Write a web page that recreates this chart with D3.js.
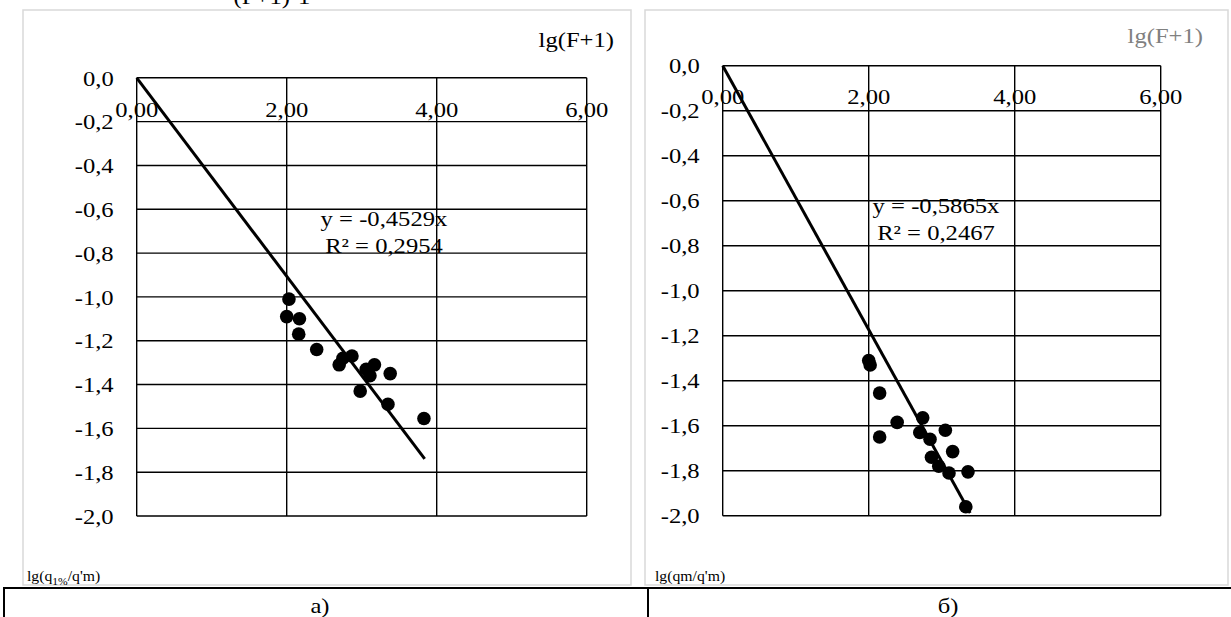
<!DOCTYPE html>
<html>
<head>
<meta charset="utf-8">
<script src="https://cdn.jsdelivr.net/npm/d3@7"></script>
<style>
  body { margin: 0; background: #fff; }
  text { font-family: "Liberation Serif", "Times New Roman", serif; fill: #000; }
</style>
</head>
<body>
<script>
// values
var xTicks = [0, 2, 4, 6];
var xTickLabels = ["0,00", "2,00", "4,00", "6,00"];
var yTicks = [0, -0.2, -0.4, -0.6, -0.8, -1.0, -1.2, -1.4, -1.6, -1.8, -2.0];
var yTickLabels = ["0,0", "-0,2", "-0,4", "-0,6", "-0,8", "-1,0", "-1,2", "-1,4", "-1,6", "-1,8", "-2,0"];

// a) lg(q1%/q'm)
var aX = [2.03, 2.00, 2.17, 2.16, 2.40, 2.75, 2.87, 2.70, 3.06, 3.17, 3.11, 3.38, 2.98, 3.35, 3.83];
var aY = [-1.01, -1.09, -1.10, -1.17, -1.24, -1.28, -1.27, -1.31, -1.33, -1.31, -1.36, -1.35, -1.43, -1.49, -1.555];
var aSlope = -0.4529, aTrendEnd = 3.84;
var aEq = ["y = -0,4529x", "R² = 0,2954"];

// б) lg(qm/q'm)
var bX = [2.00, 2.02, 2.15, 2.15, 2.39, 2.74, 2.70, 2.84, 3.05, 3.15, 2.86, 2.96, 3.10, 3.36, 3.33];
var bY = [-1.31, -1.33, -1.455, -1.65, -1.585, -1.565, -1.63, -1.66, -1.62, -1.715, -1.74, -1.78, -1.81, -1.805, -1.96];
var bSlope = -0.5865, bTrendEnd = 3.39;
var bEq = ["y = -0,5865x", "R² = 0,2467"];

var SX = 1.12; // glyphs in the picture are a bit wider than Times

var svg = d3.select("body").append("svg")
    .attr("width", 1231)
    .attr("height", 617);

function txt(g, x, y, s, size, anchor, color) {
    return g.append("text")
        .attr("transform", "translate(" + x + "," + y + ") scale(" + SX + ",1)")
        .attr("dy", "0.35em")
        .attr("font-size", size)
        .attr("text-anchor", anchor || "start")
        .style("fill", color || "#000")
        .text(s);
}

// caption above the plots, cut by the top edge as in the source
txt(svg, 272, -4, "(F+1)-1", 22, "middle");

function panel(box, area, xs, ys, slope, tEnd, eq, eqPos, yTitle, yTitleColor, xTitleParts) {
    var g = svg.append("g");
    g.append("rect")
        .attr("x", box[0]).attr("y", box[1])
        .attr("width", box[2]).attr("height", box[3])
        .attr("fill", "#fff").attr("stroke", "#d9d9d9").attr("stroke-width", 1.5);

    var x = d3.scaleLinear().domain([0, 6]).range([area.left, area.right]);
    var y = d3.scaleLinear().domain([0, -2]).range([area.top, area.bottom]);

    g.selectAll("line.h").data(yTicks).enter().append("line")
        .attr("x1", x(0)).attr("x2", x(6))
        .attr("y1", function(d) { return y(d); })
        .attr("y2", function(d) { return y(d); })
        .attr("stroke", "#000").attr("stroke-width", 1.4);
    g.selectAll("line.v").data(xTicks).enter().append("line")
        .attr("x1", function(d) { return x(d); })
        .attr("x2", function(d) { return x(d); })
        .attr("y1", y(0)).attr("y2", y(-2))
        .attr("stroke", "#000").attr("stroke-width", 1.4);

    yTicks.forEach(function(d, i) {
        txt(g, x(0) - 23, y(d), yTickLabels[i], 22, "end");
    });
    xTicks.forEach(function(d, i) {
        txt(g, x(d), y(0) + 31, xTickLabels[i], 22, "middle");
    });

    // trend line through origin
    g.append("line")
        .attr("x1", x(0)).attr("y1", y(0))
        .attr("x2", x(tEnd)).attr("y2", y(slope * tEnd))
        .attr("stroke", "#000").attr("stroke-width", 3);

    g.selectAll("circle").data(xs).enter().append("circle")
        .attr("cx", function(d) { return x(d); })
        .attr("cy", function(d, i) { return y(ys[i]); })
        .attr("r", 6.8)
        .attr("fill", "#000");

    txt(g, eqPos[0], eqPos[1], eq[0], 22, "middle");
    txt(g, eqPos[0], eqPos[1] + 27, eq[1], 22, "middle");

    txt(g, yTitle[0], yTitle[1], "lg(F+1)", 22, "end", yTitleColor);

    var t = g.append("text")
        .attr("transform", "translate(" + xTitleParts.pos[0] + "," + xTitleParts.pos[1] + ") scale(1.05,1)")
        .attr("dy", "0.35em")
        .attr("font-size", 15);
    t.append("tspan").text(xTitleParts.a);
    if (xTitleParts.sub) {
        t.append("tspan").attr("font-size", 11).attr("dy", 4).text(xTitleParts.sub);
        t.append("tspan").attr("dy", -4).text(xTitleParts.b);
    }
}

panel([23, 10, 608, 575], {left: 136.7, right: 586.7, top: 77.8, bottom: 516},
    aX, aY, aSlope, aTrendEnd, aEq, [384, 218], [614, 39], "#000",
    {pos: [27, 576], a: "lg(q", sub: "1%", b: "/q'm)"});

panel([645, 10, 583, 575], {left: 722.7, right: 1160.7, top: 65.7, bottom: 515.7},
    bX, bY, bSlope, bTrendEnd, bEq, [936, 205], [1203, 35], "#808080",
    {pos: [655, 576], a: "lg(qm/q'm)"});

// table frame with the captions below
svg.append("line").attr("x1", 3).attr("x2", 1231).attr("y1", 588).attr("y2", 588)
    .attr("stroke", "#000").attr("stroke-width", 2);
svg.append("line").attr("x1", 4).attr("x2", 4).attr("y1", 588).attr("y2", 617)
    .attr("stroke", "#000").attr("stroke-width", 2);
svg.append("line").attr("x1", 648).attr("x2", 648).attr("y1", 588).attr("y2", 617)
    .attr("stroke", "#000").attr("stroke-width", 2);
txt(svg, 320, 605, "а)", 22, "middle");
txt(svg, 948, 605, "б)", 22, "middle");
</script>
</body>
</html>
